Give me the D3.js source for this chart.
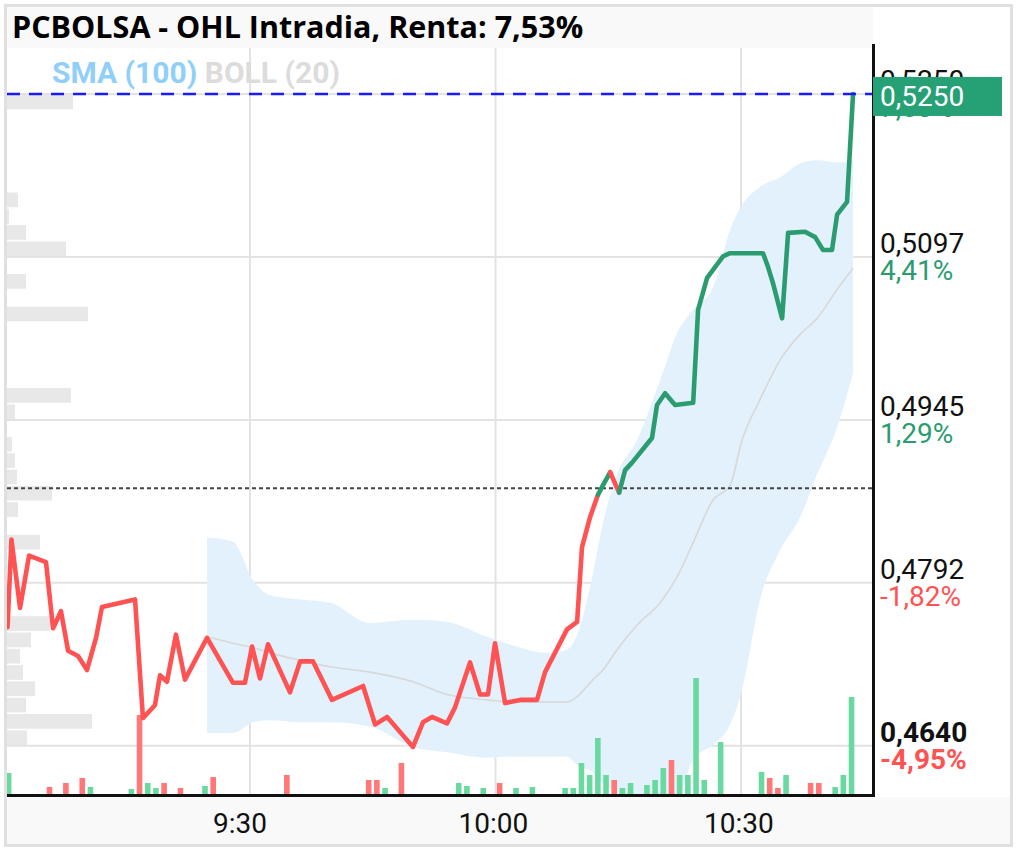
<!DOCTYPE html>
<html><head><meta charset="utf-8">
<script src="https://cdn.jsdelivr.net/npm/d3@7"></script>
<style>
html,body{margin:0;padding:0;background:#fff;}
svg{display:block;}
</style></head>
<body>
<svg id="chart" width="1017" height="851"></svg>
<script>
// ---------------- DATA ----------------
const titleText = "PCBOLSA - OHL Intradia, Renta: 7,53%";
const legendItems = ["SMA (100)", "BOLL (20)"];
const prevClose = 0.4881;
const lastPrice = 0.5250;
const lastPriceLabel = "0,5250";

const priceTimes = ["9:00:22","9:00:51","9:01:54","9:03:00","9:05:04","9:05:56","9:06:54","9:07:46","9:08:59","9:10:05",
  "9:11:11","9:11:55","9:15:57","9:16:55","9:18:23","9:19:00","9:19:51","9:20:57","9:22:03","9:24:45",
  "9:27:55","9:29:23","9:30:15","9:31:13","9:32:12","9:34:53","9:36:07","9:37:42","9:40:01","9:43:49",
  "9:45:17","9:46:45","9:49:55","9:51:08","9:52:14","9:54:04","9:55:03","9:56:53","9:58:06","9:59:05",
  "9:59:56","10:01:10","10:03:00","10:05:04","10:06:03","10:08:44","10:09:58","10:10:34","10:11:33","10:12:31",
  "10:13:08","10:14:00","10:15:06","10:15:50","10:16:41","10:19:07","10:19:44","10:20:43","10:21:56","10:24:09",
  "10:24:45","10:25:51","10:27:48","10:28:39","10:32:41","10:33:18","10:33:54","10:35:01","10:35:45","10:37:49",
  "10:39:03","10:40:01","10:41:07","10:41:44","10:42:57","10:43:41"];
const priceValues = [0.4751,0.4833,0.4769,0.4818,0.4812,0.4750,0.4766,0.4729,0.4724,0.4711,
  0.4741,0.4770,0.4777,0.4666,0.4678,0.4706,0.4700,0.4744,0.4702,0.4741,
  0.4699,0.4699,0.4733,0.4703,0.4735,0.4690,0.4719,0.4719,0.4683,0.4696,
  0.4660,0.4667,0.4639,0.4662,0.4667,0.4661,0.4676,0.4718,0.4688,0.4688,
  0.4736,0.4680,0.4683,0.4683,0.4709,0.4749,0.4756,0.4826,0.4854,0.4875,
  0.4884,0.4896,0.4877,0.4898,0.4905,0.4928,0.4959,0.4970,0.4959,0.4961,
  0.5048,0.5078,0.5098,0.5101,0.5101,0.5088,0.5073,0.5040,0.5120,0.5121,
  0.5116,0.5104,0.5104,0.5137,0.5149,0.5250];

const bandTimes = ["9:24:45","9:27:55","9:30:22","9:32:27","9:36:07","9:39:47","9:44:40","9:49:55","9:54:05","9:58:58",
  "10:02:08","10:06:18","10:08:44","10:09:58","10:11:55","10:13:08","10:14:51","10:17:18","10:20:07","10:22:11",
  "10:24:08","10:26:35","10:28:40","10:30:07","10:32:19","10:34:46","10:37:13","10:39:17","10:41:44","10:43:41"];
const bandUpper = [0.4835,0.4831,0.4795,0.4781,0.4777,0.4774,0.4755,0.4758,0.4756,0.4742,
  0.4734,0.4727,0.4730,0.4744,0.4802,0.4849,0.4894,0.4926,0.4982,0.5026,
  0.5048,0.5069,0.5123,0.5146,0.5163,0.5172,0.5185,0.5188,0.5186,0.5188];
const bandMiddle = [0.4742,0.4736,0.4732,0.4727,0.4720,0.4714,0.4709,0.4700,0.4688,0.4683,
  0.4681,0.4681,0.4681,0.4686,0.4702,0.4711,0.4730,0.4753,0.4774,0.4798,
  0.4830,0.4870,0.4884,0.4926,0.4964,0.5001,0.5025,0.5040,0.5067,0.5087];
const bandLower = [0.4652,0.4652,0.4662,0.4664,0.4662,0.4662,0.4658,0.4639,0.4634,0.4629,
  0.4630,0.4630,0.4630,0.4622,0.4615,0.4604,0.4596,0.4590,0.4585,0.4590,
  0.4627,0.4641,0.4660,0.4692,0.4777,0.4823,0.4854,0.4894,0.4938,0.4989];

const volTimes = ["9:00","9:05","9:07","9:09","9:10","9:15","9:16","9:17","9:18","9:19",
  "9:21","9:24","9:25","9:34","9:44","9:45","9:46","9:48","9:55","9:56",
  "9:58","10:00","10:02","10:04","10:08","10:09","10:10","10:11","10:12","10:13",
  "10:14","10:15","10:16","10:18","10:19","10:20","10:21","10:22","10:23","10:24",
  "10:25","10:27","10:32","10:33","10:34","10:35","10:38","10:39","10:41","10:42","10:43"];
const volValues = [22000,8000,12000,17000,8000,6000,80000,12000,7000,12000,
  7000,9000,18000,20000,15000,15000,7000,32000,12000,9000,
  7000,12000,7000,8000,7000,7000,32000,20000,57000,20000,
  15000,7000,12000,10000,15000,27000,35000,20000,20000,117000,
  15000,53000,23000,17000,7000,20000,12000,12000,8000,20000,98000];
const volUp = [1,0,0,0,1,1,0,1,1,0,
  0,1,0,0,0,0,1,0,1,1,
  1,0,1,1,1,1,1,1,1,1,
  0,1,1,1,1,1,0,1,1,1,
  1,1,1,0,0,1,0,0,1,1,1];

const profileLow = [0.4640,0.46553,0.46705,0.46858,0.4701,0.47163,0.47315,0.47468,0.4823,0.48535,
  0.48688,0.4884,0.48993,0.49145,0.4945,0.49603,0.50365,0.5067,0.50975,0.51128,
  0.5128,0.51433,0.52348];
const profileVol = [20000,85000,19000,28000,16000,13000,24000,43000,33000,11000,
  45000,10000,8000,5000,8000,64000,81000,19000,59000,19000,
  2000,11000,66000];
const profileBin = 0.001525;

const yTicks = [0.4640,0.47925,0.4945,0.50975,0.5250];
const yTickLabels = ["0,4640","0,4792","0,4945","0,5097","0,5250"];
const yPctLabels = ["-4,95%","-1,82%","1,29%","4,41%","7,53%"];
const xTicks = ["9:30","10:00","10:30"];
const xDomain = ["9:00:00","10:46:00"];

// ---------------- SETUP ----------------
const W = 1017, H = 851;
const plot = {left: 7, right: 873, top: 48, bottom: 795};
const parseS = d3.timeParse("%H:%M:%S");
const parseM = d3.timeParse("%H:%M");
const svg = d3.select("#chart");

const x = d3.scaleTime().domain(xDomain.map(parseS)).range([4.5, 872]);
const y = d3.scaleLinear().domain([0.4594, 0.5293]).range([plot.bottom, plot.top]);
const yVol = d3.scaleLinear().domain([0, 100000]).range([0, 100]);
const xProf = d3.scaleLinear().domain([0, 100000]).range([0, 100]);

const GREEN = "#2b9c70", RED = "#ff5252";
const FONT = "Roboto, 'Noto Sans', sans-serif";

// frame
svg.append("rect").attr("x",0).attr("y",0).attr("width",W).attr("height",H).attr("fill","#fff");
svg.append("rect").attr("x",5.5).attr("y",5.5).attr("width",1006).attr("height",840)
  .attr("fill","#fff").attr("stroke","#e0e0e0").attr("stroke-width",3);
svg.append("rect").attr("x",7).attr("y",7).attr("width",866).attr("height",41).attr("fill","#f9f9f9");
svg.append("rect").attr("x",7).attr("y",797).attr("width",1003).attr("height",47).attr("fill","#f9f9f9");

svg.append("defs").append("clipPath").attr("id","plotclip").append("rect")
  .attr("x",plot.left).attr("y",plot.top).attr("width",plot.right-plot.left).attr("height",plot.bottom-plot.top);

const g = svg.append("g").attr("clip-path","url(#plotclip)");

// volume profile
g.append("g").selectAll("rect").data(profileLow).join("rect")
  .attr("x", plot.left)
  .attr("y", d => y(d + profileBin) + 0.8)
  .attr("width", (d,i) => xProf(profileVol[i]))
  .attr("height", d => y(d) - y(d + profileBin) - 1.6)
  .attr("fill", "#e8e8e8");

// grid
g.append("g").selectAll("line").data(yTicks).join("line")
  .attr("x1", plot.left).attr("x2", plot.right)
  .attr("y1", d => y(d)).attr("y2", d => y(d))
  .attr("stroke", "#e3e3e3").attr("stroke-width", 2);
g.append("g").selectAll("line").data(xTicks).join("line")
  .attr("x1", d => x(parseM(d))).attr("x2", d => x(parseM(d)))
  .attr("y1", plot.top).attr("y2", plot.bottom)
  .attr("stroke", "#e3e3e3").attr("stroke-width", 2);

// bollinger band
const bandData = bandTimes.map((t,i) => ({t: parseS(t), u: bandUpper[i], m: bandMiddle[i], l: bandLower[i]}));
g.append("path").datum(bandData)
  .attr("d", d3.area().x(d => x(d.t)).y0(d => y(d.l)).y1(d => y(d.u)).curve(d3.curveMonotoneX))
  .attr("fill", "#e2f1fc");
g.append("path").datum(bandData)
  .attr("d", d3.line().x(d => x(d.t)).y(d => y(d.m)).curve(d3.curveMonotoneX))
  .attr("fill", "none").attr("stroke", "#d8d8d8").attr("stroke-width", 1.6);

// volume bars
const minuteW = x(parseM("9:01")) - x(parseM("9:00"));
g.append("g").selectAll("rect").data(volTimes).join("rect")
  .attr("x", d => x(parseM(d)) + minuteW/2 - 2.8)
  .attr("width", 5.6)
  .attr("y", (d,i) => plot.bottom - yVol(volValues[i]))
  .attr("height", (d,i) => yVol(volValues[i]))
  .attr("fill", (d,i) => volUp[i] ? "#6ad9a0" : "#ff7777");

// previous close dotted line
g.append("line")
  .attr("x1", plot.left).attr("x2", plot.right)
  .attr("y1", y(prevClose)).attr("y2", y(prevClose))
  .attr("stroke", "#444").attr("stroke-width", 2).attr("stroke-dasharray", "4,3");

// price line, segments coloured by end point vs previous close
const pts = priceTimes.map((t,i) => ({t: parseS(t), v: priceValues[i]}));
const runs = [];
for (let i = 1; i < pts.length; i++) {
  const c = pts[i].v >= prevClose ? GREEN : RED;
  if (runs.length && runs[runs.length-1].c === c) runs[runs.length-1].p.push(pts[i]);
  else runs.push({c, p: [pts[i-1], pts[i]]});
}
const line = d3.line().x(d => x(d.t)).y(d => y(d.v));
g.append("g").selectAll("path").data(runs).join("path")
  .attr("d", d => line(d.p))
  .attr("fill", "none").attr("stroke", d => d.c).attr("stroke-width", 4.6)
  .attr("stroke-linejoin", "round").attr("stroke-linecap", "round");

// last price dashed blue line
g.append("line")
  .attr("x1", plot.left).attr("x2", plot.right)
  .attr("y1", y(lastPrice)).attr("y2", y(lastPrice))
  .attr("stroke", "#1a1aff").attr("stroke-width", 2.5).attr("stroke-dasharray", "13,9");

// axis lines
svg.append("line").attr("x1", plot.right+0.5).attr("x2", plot.right+0.5).attr("y1", 44).attr("y2", 797)
  .attr("stroke", "#111").attr("stroke-width", 3);
svg.append("line").attr("x1", plot.left).attr("x2", plot.right+2).attr("y1", 795.5).attr("y2", 795.5)
  .attr("stroke", "#111").attr("stroke-width", 3);

// right labels
const ylab = svg.append("g").attr("font-family", FONT).attr("font-size", 28);
yTicks.forEach((v,i) => {
  const bold = i === 0;
  ylab.append("text").attr("x", 880).attr("y", y(v) - 3.5).text(yTickLabels[i])
    .attr("fill", "#111").attr("font-weight", bold ? "bold" : "normal");
  ylab.append("text").attr("x", 880).attr("y", y(v) + 23.5).text(yPctLabels[i])
    .attr("fill", v >= prevClose ? GREEN : RED).attr("font-weight", bold ? "bold" : "normal");
});

// last price box
svg.append("rect").attr("x", plot.right).attr("y", y(lastPrice) - 17).attr("width", 129).attr("height", 39)
  .attr("fill", "#26a075");
svg.append("text").attr("x", 880).attr("y", y(lastPrice) + 12).text(lastPriceLabel)
  .attr("font-family", FONT).attr("font-size", 28).attr("fill", "#fff");

// x labels
svg.append("g").selectAll("text").data(xTicks).join("text")
  .attr("x", d => x(parseM(d)) - 37).attr("y", 833)
  .attr("font-family", FONT).attr("font-size", 28).attr("fill", "#111")
  .text(d => d);

// title
svg.append("text").attr("x", 12).attr("y", 38).text(titleText)
  .attr("font-family", "'Open Sans', 'Noto Sans', sans-serif").attr("font-weight", "bold")
  .attr("font-size", 30.5).attr("fill", "#000");

// legend
const leg = svg.append("text").attr("x", 52).attr("y", 83)
  .attr("font-family", FONT).attr("font-weight", "bold").attr("font-size", 30);
leg.append("tspan").text(legendItems[0]).attr("fill", "#90cff9");
leg.append("tspan").text(" " + legendItems[1]).attr("fill", "#dcdcdc");
</script>
</body></html>
